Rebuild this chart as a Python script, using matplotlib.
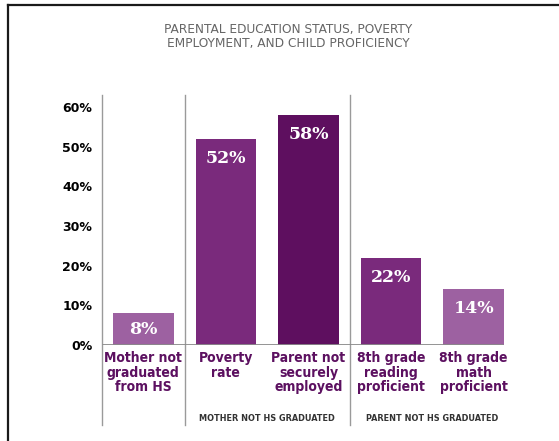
import matplotlib.pyplot as plt
from matplotlib.lines import Line2D
from matplotlib import font_manager

categories = ['Mother not\ngraduated\nfrom HS', 'Poverty\nrate', 'Parent not\nsecurely\nemployed',
              '8th grade\nreading\nproficient', '8th grade\nmath\nproficient']
values = [8, 52, 58, 22, 14]
groups = ['MOTHER NOT HS GRADUATED', 'PARENT NOT HS GRADUATED']
group_pos = [1.5, 3.5]
yticks = [0, 10, 20, 30, 40, 50, 60]

colors = ['#9d61a1', '#7a2a7c', '#5e0f5f', '#7a2a7c', '#9d61a1']
label_color = '#5c1060'

have_cond = any(f.name == 'DejaVu Sans' and f.stretch in ('condensed', 'semi-condensed')
                for f in font_manager.fontManager.ttflist)

fig = plt.figure(figsize=(5.59, 4.41), dpi=100)
W, H = 559, 441
ax = fig.add_axes([102 / W, 96 / H, 413 / W, 250 / H])

x = range(len(values))
bars = ax.bar(x, values, width=0.735, color=colors, zorder=2)
for b, v in zip(bars, values):
    # small bar gets its label centred, the rest sit near the top
    y = v / 2 if v < 10 else v - 4.9
    ax.text(b.get_x() + b.get_width() / 2, y, f'{v}%', ha='center', va='center',
            color='white', fontsize=12.5, fontweight='bold', family='DejaVu Serif', zorder=3)

ax.set_xlim(-0.5, 4.5)
ax.set_ylim(0, 63)
ax.set_yticks(yticks)
ax.set_yticklabels([f'{t}%' for t in yticks], fontsize=9, fontweight='heavy', color='black')
ax.tick_params(axis='y', length=0, pad=7)
ax.set_xticks([])
for s in ax.spines.values():
    s.set_visible(False)

# baseline
ax.plot([-0.5, 4.35], [0, 0], color='#8a8a8a', lw=2, zorder=4, solid_capstyle='butt')

# vertical separators extending below the axis
for xv in [-0.5, 0.5, 2.5]:
    ax.axvline(xv, ymin=-0.32, ymax=1.0, color='#9a9a9a', lw=1, clip_on=False)

if have_cond:
    cat_kw = dict(family='DejaVu Sans', fontstretch='condensed', fontsize=10)
    grp_kw = dict(family='DejaVu Sans', fontstretch='condensed', fontsize=6.5)
    ttl_kw = dict(family='DejaVu Sans', fontstretch='condensed', fontsize=9.7)
else:
    cat_kw = dict(family='Lato', fontsize=9.5)
    grp_kw = dict(family='Lato', fontsize=6.5)
    ttl_kw = dict(family='Lato', fontsize=9.5)

trans = ax.get_xaxis_transform()
for i, c in enumerate(categories):
    ax.text(i, -0.025, c, transform=trans, ha='center', va='top',
            fontweight='bold', color=label_color, linespacing=1.05, **cat_kw)
for g, p in zip(groups, group_pos):
    ax.text(p, -0.295, g, transform=trans, ha='center', va='center',
            fontweight='bold', color='#333333', **grp_kw)

fig.text(288 / W, 1 - 36.5 / H, 'PARENTAL EDUCATION STATUS, POVERTY\nEMPLOYMENT, AND CHILD PROFICIENCY',
         ha='center', va='center', color='#666666', linespacing=1.1, **ttl_kw)

# frame: left and top edges only
fig.add_artist(Line2D([7.5 / W, 7.5 / W], [0, 1 - 5 / H], color='#1a1a1a', lw=1.6))
fig.add_artist(Line2D([7.5 / W, 1], [1 - 5 / H, 1 - 5 / H], color='#1a1a1a', lw=1.6))

fig.savefig('out.png', dpi=100)
